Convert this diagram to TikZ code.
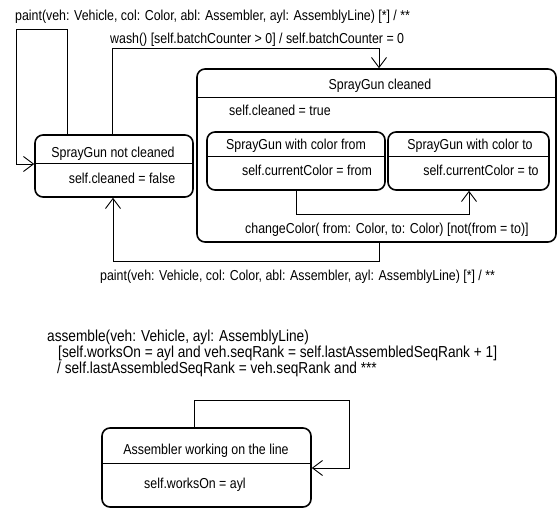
\documentclass[tikz,border=0pt]{standalone}
\usepackage{fontspec}
\setmainfont[FakeStretch=0.86]{Liberation Sans}
\usetikzlibrary{arrows.meta,calc}
\begin{document}
\begin{tikzpicture}[x=1pt,y=-1pt,
  statebox/.style={draw=black, line width=1.6pt, rounded corners=8pt, inner sep=0pt},
  divider/.style={draw=black, line width=1pt},
  conn/.style={draw=black, line width=0.9pt, -{Straight Barb[length=10pt,width=15pt]}},
  lbl/.style={inner sep=0pt, font=\fontsize{14.4}{16}\selectfont, anchor=base west},
  txt/.style={inner sep=0pt, font=\fontsize{14.4}{16}\selectfont, anchor=base},
  big/.style={inner sep=0pt, font=\fontsize{15.9}{17}\selectfont, anchor=base west}]
\fill[white] (0,0) rectangle (558,509);
\useasboundingbox (0,0) rectangle (558,509);

% states
\node[statebox, minimum width=158pt, minimum height=62pt] (notc) at (114,166) {};
\node[statebox, minimum width=359pt, minimum height=173pt] (cleaned) at (376.5,155.5) {};
\node[statebox, minimum width=178pt, minimum height=58pt] (from) at (296,161) {};
\node[statebox, minimum width=161pt, minimum height=58pt] (to) at (468.5,161) {};
\node[statebox, minimum width=209pt, minimum height=79pt] (asm) at (206.5,467.5) {};

% dividers
\draw[divider] (notc.west |- 0,163) -- (notc.east |- 0,163);
\draw[divider] (cleaned.west |- 0,97) -- (cleaned.east |- 0,97);
\draw[divider] (from.west |- 0,156) -- (from.east |- 0,156);
\draw[divider] (to.west |- 0,156) -- (to.east |- 0,156);
\draw[divider] (asm.west |- 0,463) -- (asm.east |- 0,463);

% state texts
\node[txt] (notcT) at (113,157) {SprayGun not cleaned};
\node[txt] (notcB) at (122,183) {self.cleaned = false};
\node[txt] (clT) at (380,89) {SprayGun cleaned};
\node[txt] (clB) at (280,115) {self.cleaned = true};
\node[txt] (frT) at (296,149) {SprayGun with color from};
\node[txt] (frB) at (307,175) {self.currentColor = from};
\node[txt] (toT) at (470,149) {SprayGun with color to};
\node[txt] (toB) at (481,175) {self.currentColor = to};
\node[txt] (asmT) at (206,454) {Assembler working on the line};
\node[txt] (asmB) at (195,488) {self.worksOn = ayl};

% connectors
\draw[conn] ($(notc.north west)+(33,0)$) |- (16,29) |- ($(notc.west)+(0,-2)$);
\draw[conn] ($(notc.north west)+(78,0)$) |- ($(cleaned.north)+(2.5,-20)$) -- ($(cleaned.north)+(2.5,0)$);
\draw[conn] (from.south) |- ($(to.south)+(0.5,24)$) -- ($(to.south)+(0.5,0)$);
\draw[conn] ($(cleaned.south)+(2.5,0)$) |- ($(notc.south)+(-1,64)$) -- ($(notc.south)+(-1,0)$);
\draw[conn] ($(asm.north west)+(93,0)$) |- (349,400) |- ($(asm.east)+(0,0.5)$);

% transition labels
\node[lbl] (l1) at (15,20) {paint(veh: Vehicle, col: Color, abl: Assembler, ayl: AssemblyLine) [*] / **};
\node[lbl] (l2) at (110,43) {wash() [self.batchCounter > 0] / self.batchCounter = 0};
\node[lbl] (l3) at (245,233) {changeColor( from: Color, to: Color) [not(from = to)]};
\node[lbl] (l4) at (100,280) {paint(veh: Vehicle, col: Color, abl: Assembler, ayl: AssemblyLine) [*] / **};
\node[big] (a1) at (47,341) {assemble(veh: Vehicle, ayl: AssemblyLine)};
\node[big] (a2) at (58,357) {[self.worksOn = ayl and veh.seqRank = self.lastAssembledSeqRank + 1]};
\node[big] (a3) at (57,373) {/ self.lastAssembledSeqRank = veh.seqRank and ***};
\end{tikzpicture}
\end{document}
